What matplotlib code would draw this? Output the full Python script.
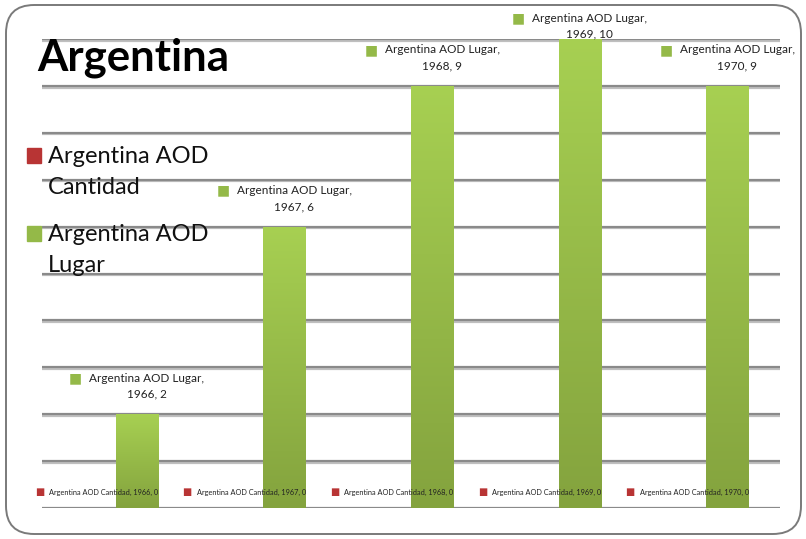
import textwrap
import matplotlib
matplotlib.use("Agg")
import matplotlib.pyplot as plt
import matplotlib.patheffects as pe
from matplotlib.colors import LinearSegmentedColormap
from matplotlib.patches import Rectangle, FancyBboxPatch
import numpy as np

# data
years = ["1966", "1967", "1968", "1969", "1970"]
series_names = ["Argentina AOD Cantidad", "Argentina AOD Lugar"]
cantidad = [0, 0, 0, 0, 0]
lugar = [2, 6, 9, 10, 9]
title = "Argentina"

W, H = 806, 539
plt.rcParams["font.family"] = ["Lato", "DejaVu Sans"]

fig = plt.figure(figsize=(W / 100, H / 100), dpi=100)

# plot area in pixels: left, top, right, bottom
L, T, R, B = 42, 39, 780, 508
ax = fig.add_axes([L / W, 1 - B / H, (R - L) / W, (B - T) / H])

green_cmap = LinearSegmentedColormap.from_list("g", ["#84a33e", "#a7d052"])
red_cmap = LinearSegmentedColormap.from_list("r", ["#9a2c2d", "#cf3f3f"])
series_colors = ["#b83434", "#94b948"]
cmaps = [red_cmap, green_cmap]

x = np.arange(len(years))
width = 0.285
offsets = [-width / 2, width / 2]
values = [cantidad, lugar]
ymax = 10

grad = np.linspace(0, 1, 256).reshape(-1, 1)
for s, vals in enumerate(values):
    bars = ax.bar(x + offsets[s], vals, width, color="none", edgecolor="none", zorder=2)
    for b in bars:
        if b.get_height() <= 0:
            continue
        im = ax.imshow(grad, extent=[b.get_x(), b.get_x() + b.get_width(), 0, b.get_height()],
                       origin="lower", cmap=cmaps[s], aspect="auto", zorder=2)
        im.set_clip_path(b)

ax.set_xlim(-0.5, len(years) - 0.5)
ax.set_ylim(0, ymax)
ax.set_yticks(np.arange(0, ymax + 1, 1))
ax.set_xticks([])
ax.tick_params(left=False, labelleft=False)
for sp in ax.spines.values():
    sp.set_visible(False)
ax.patch.set_visible(False)
ax.set_axisbelow(True)
ax.grid(axis="y", color="#8a8a8a", linewidth=1.6,
        path_effects=[pe.SimpleLineShadow(offset=(0, -1.2), shadow_color="#b0b0b0", alpha=0.8),
                      pe.Normal()])

px_per_unit = (B - T) / ymax

# data labels: Lugar above bars, Cantidad just above the baseline
for i, yr in enumerate(years):
    xl = x[i] + offsets[1]
    v = lugar[i]
    top_px = B - v * px_per_unit
    # keep the label inside the figure when the bar reaches the top
    up = min(36, top_px - 18)
    l1 = ax.annotate(series_names[1] + ",", xy=(xl, v), xytext=(10, up), textcoords="offset pixels",
                     ha="center", va="center", fontsize=8.5, color="#222222", zorder=4)
    ax.annotate(f"{yr}, {v}", xy=(xl, v), xytext=(10, up - 16), textcoords="offset pixels",
                ha="center", va="center", fontsize=8.5, color="#222222", zorder=4)
    ax.annotate("■", xy=(0, 0.5), xycoords=l1, xytext=(-7, 0), textcoords="offset pixels",
                ha="right", va="center", fontsize=10, color=series_colors[1],
                family="DejaVu Sans", zorder=4)

    xc = x[i] + offsets[0]
    c = cantidad[i]
    t = ax.annotate(f"{series_names[0]}, {yr}, {c}", xy=(xc, c), xytext=(9, 16),
                    textcoords="offset pixels", ha="center", va="center",
                    fontsize=5.3, color="#222222", zorder=4)
    ax.annotate("■", xy=(0, 0.5), xycoords=t, xytext=(-5, 0), textcoords="offset pixels",
                ha="right", va="center", fontsize=7, color=series_colors[0],
                family="DejaVu Sans", zorder=4)

# title
fig.text(37 / W, 1 - 70 / H, title, fontsize=31.5, fontweight="bold", ha="left", va="baseline")

# legend
leg_base = [163, 241]
for s, name in enumerate(series_names):
    lines = textwrap.wrap(name, 13)
    for k, line in enumerate(lines):
        fig.text(48 / W, 1 - (leg_base[s] + 31 * k) / H, line, fontsize=17,
                 ha="left", va="baseline", color="#111111")
    fig.patches.append(Rectangle((27 / W, 1 - leg_base[s] / H), 14 / W, 15 / H,
                                 transform=fig.transFigure, color=series_colors[s]))

# outer frame
fig.patches.append(FancyBboxPatch((6 / W, 5 / H), 795 / W, 529 / H,
                                  boxstyle="round,pad=0,rounding_size=0.035",
                                  transform=fig.transFigure, fill=False,
                                  edgecolor="#7a7a7a", linewidth=1.4,
                                  mutation_aspect=W / H))

fig.savefig("out.png", dpi=100)
